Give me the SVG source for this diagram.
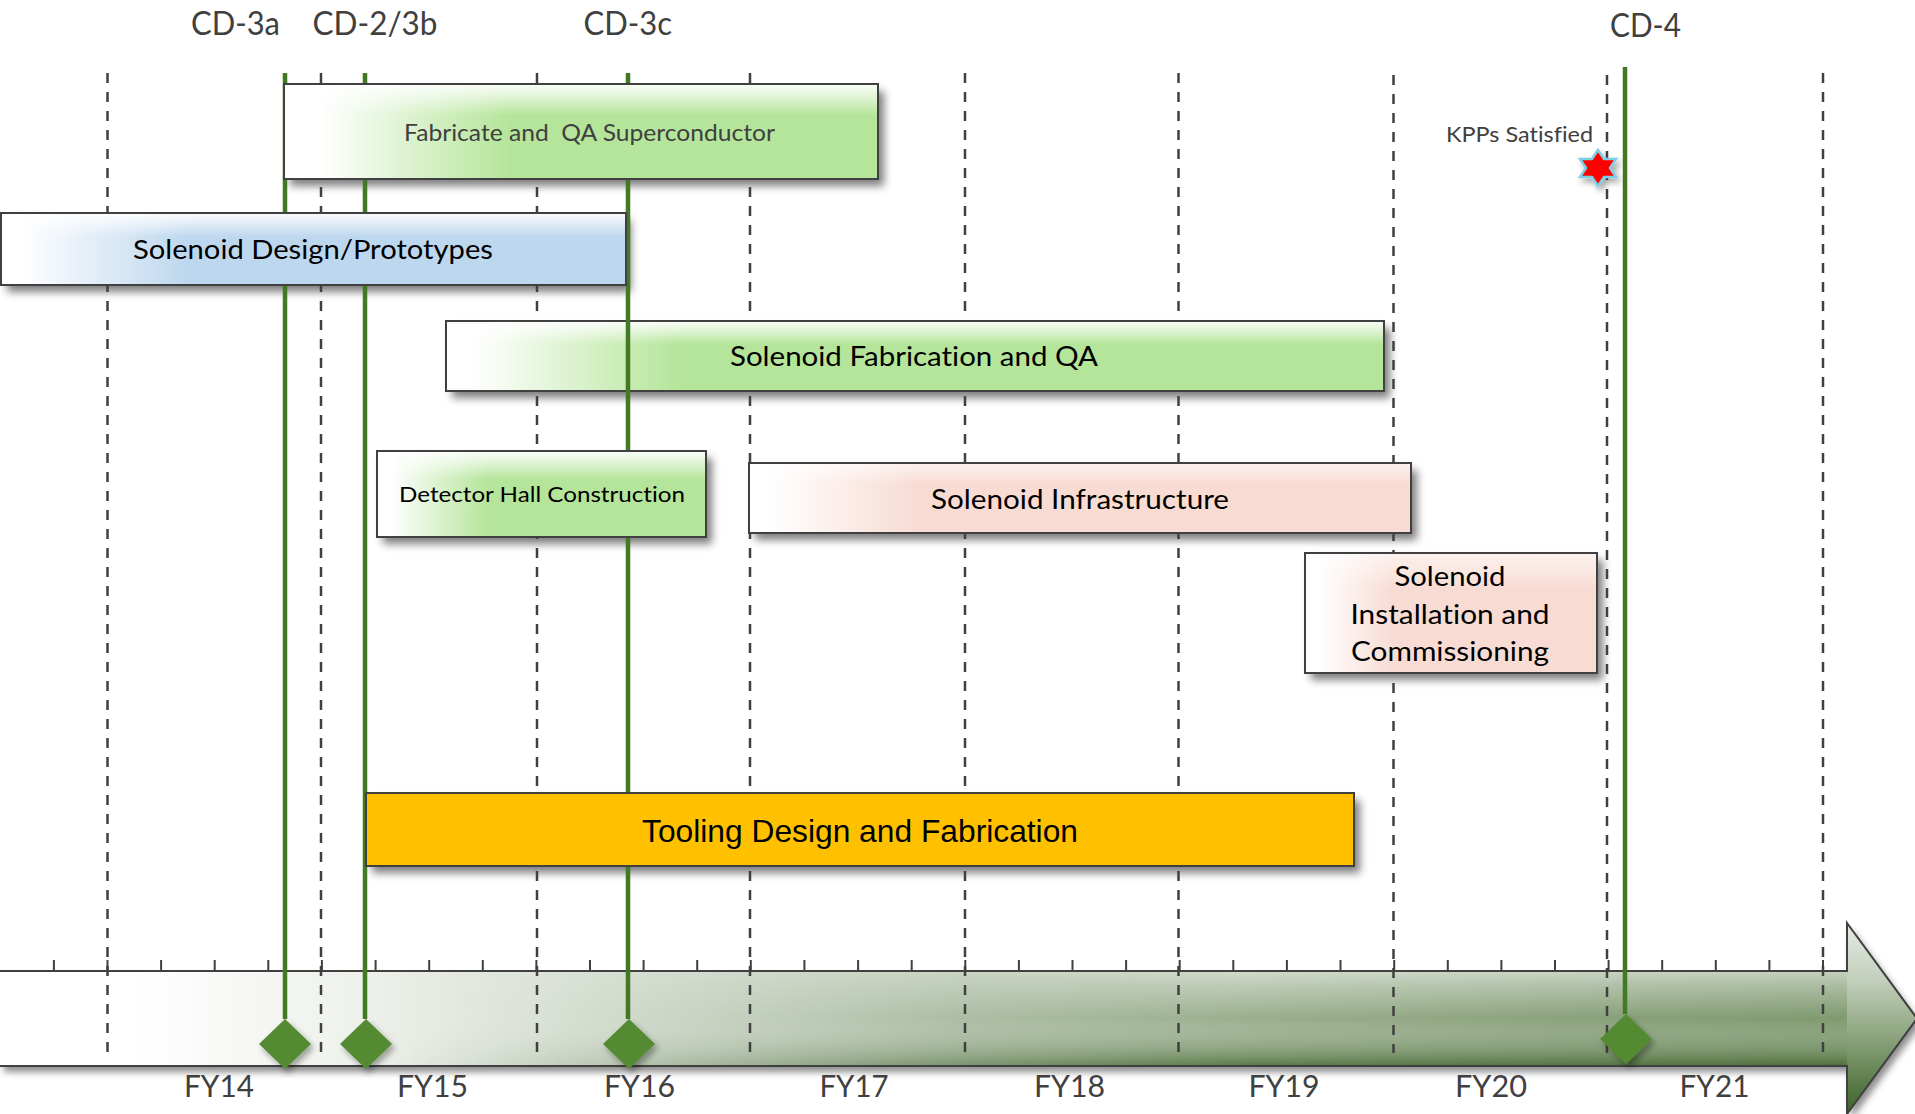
<svg xmlns="http://www.w3.org/2000/svg" width="1915" height="1114" viewBox="0 0 1915 1114">
<style>
text{font-variant-ligatures:none}
.lbl{font-family:Lato,"Open Sans","Liberation Sans",sans-serif;fill:#404040}
.bt{font-family:Lato,"Open Sans","Liberation Sans",sans-serif;fill:#000}
.grid{stroke:#404040;stroke-width:2.5;stroke-dasharray:10 9;fill:none}
.ms{stroke:#417a22;stroke-width:4.5;fill:none}
.dia{fill:#538a32}
.box{stroke:#404040;stroke-width:2}
.sh{fill:#000;opacity:0.5;filter:url(#blur)}
</style>
<defs>
<filter id="blur" x="-10%" y="-30%" width="120%" height="160%"><feGaussianBlur stdDeviation="4"/></filter>
<filter id="dsh" x="-5%" y="-20%" width="110%" height="150%"><feDropShadow dx="4" dy="6" stdDeviation="3.5" flood-color="#000" flood-opacity="0.45"/></filter>
<filter id="dsmall" x="-50%" y="-50%" width="200%" height="200%"><feDropShadow dx="3" dy="4" stdDeviation="3" flood-color="#000" flood-opacity="0.35"/></filter>
<linearGradient id="gFab" x1="0" y1="0" x2="1" y2="0"><stop offset="0" stop-color="#fff"/><stop offset="0.06" stop-color="#fff"/><stop offset="0.38" stop-color="#b5e59a"/><stop offset="1" stop-color="#b5e59a"/></linearGradient>
<linearGradient id="gSFab" x1="0" y1="0" x2="1" y2="0"><stop offset="0" stop-color="#fff"/><stop offset="0.03" stop-color="#fff"/><stop offset="0.25" stop-color="#b5e59a"/><stop offset="1" stop-color="#b5e59a"/></linearGradient>
<linearGradient id="gDet" x1="0" y1="0" x2="1" y2="0"><stop offset="0" stop-color="#fff"/><stop offset="0.04" stop-color="#fff"/><stop offset="0.34" stop-color="#b5e59a"/><stop offset="1" stop-color="#b5e59a"/></linearGradient>
<linearGradient id="gBlue" x1="0" y1="0" x2="1" y2="0"><stop offset="0" stop-color="#fff"/><stop offset="0.03" stop-color="#fff"/><stop offset="0.3" stop-color="#bdd7ee"/><stop offset="1" stop-color="#bdd7ee"/></linearGradient>
<linearGradient id="gPink" x1="0" y1="0" x2="1" y2="0"><stop offset="0" stop-color="#fff"/><stop offset="0.03" stop-color="#fff"/><stop offset="0.25" stop-color="#f8dcd4"/><stop offset="1" stop-color="#f8dcd4"/></linearGradient>
<linearGradient id="gPink2" x1="0" y1="0" x2="1" y2="0"><stop offset="0" stop-color="#fff"/><stop offset="0.04" stop-color="#fff"/><stop offset="0.3" stop-color="#f8dcd4"/><stop offset="1" stop-color="#f8dcd4"/></linearGradient>
<linearGradient id="sheen" x1="0" y1="0" x2="0" y2="1"><stop offset="0" stop-color="#fff" stop-opacity="0.9"/><stop offset="0.12" stop-color="#fff" stop-opacity="0.6"/><stop offset="0.33" stop-color="#fff" stop-opacity="0"/></linearGradient>
<linearGradient id="sheen2" x1="0" y1="0" x2="0" y2="1"><stop offset="0" stop-color="#fff" stop-opacity="0.6"/><stop offset="0.3" stop-color="#fff" stop-opacity="0"/></linearGradient>
<linearGradient id="tlH" gradientUnits="userSpaceOnUse" x1="0" y1="0" x2="1915" y2="0"><stop offset="0" stop-color="#fff"/><stop offset="0.07" stop-color="#fff"/><stop offset="0.2" stop-color="#eceFe9"/><stop offset="0.34" stop-color="#cdd7c8"/><stop offset="0.5" stop-color="#adbea4"/><stop offset="0.68" stop-color="#97ad8a"/><stop offset="0.85" stop-color="#87a079"/><stop offset="1" stop-color="#7c986c"/></linearGradient>
<linearGradient id="tlV" gradientUnits="userSpaceOnUse" x1="0" y1="971" x2="0" y2="1066"><stop offset="0" stop-color="#fff" stop-opacity="0.55"/><stop offset="0.15" stop-color="#fff" stop-opacity="0.35"/><stop offset="0.5" stop-color="#fff" stop-opacity="0"/><stop offset="1" stop-color="#2c5419" stop-opacity="0.6"/></linearGradient>
<linearGradient id="tlM" gradientUnits="userSpaceOnUse" x1="0" y1="0" x2="1915" y2="0"><stop offset="0.2" stop-color="#000"/><stop offset="0.65" stop-color="#fff"/><stop offset="1" stop-color="#fff"/></linearGradient>
<mask id="tlMask" maskUnits="userSpaceOnUse" x="0" y="900" width="1915" height="214"><rect x="0" y="900" width="1915" height="214" fill="url(#tlM)"/></mask>
<linearGradient id="tlHead" gradientUnits="userSpaceOnUse" x1="0" y1="923" x2="0" y2="1114"><stop offset="0" stop-color="#e6ebe3"/><stop offset="0.3" stop-color="#c2cfbb"/><stop offset="0.55" stop-color="#94ab87"/><stop offset="1" stop-color="#3b6227"/></linearGradient>
</defs>

<!-- timeline axis -->
<g id="timeline">
<path d="M0 971H1847V923L1917 1018.5L1847 1114V1066H0Z" fill="url(#tlH)" filter="url(#dsh)"/>
<rect x="0" y="971" width="1847" height="95" fill="url(#tlV)" mask="url(#tlMask)"/>
<path d="M1847 923L1917 1018.5L1847 1114Z" fill="url(#tlHead)"/>
<path d="M0 971H1847V923L1917 1018.5L1847 1114V1066H0" fill="none" stroke="#404040" stroke-width="2"/>
<path d="M53.9 960V971M107.5 960V971M161.1 960V971M214.7 960V971M268.3 960V971M321.9 960V971M375.6 960V971M429.2 960V971M482.8 960V971M536.4 960V971M590 960V971M643.6 960V971M697.2 960V971M750.8 960V971M804.4 960V971M858.1 960V971M911.7 960V971M965.3 960V971M1018.9 960V971M1072.5 960V971M1126.1 960V971M1179.7 960V971M1233.3 960V971M1286.9 960V971M1340.5 960V971M1394.2 960V971M1447.8 960V971M1501.4 960V971M1555 960V971M1608.6 960V971M1662.2 960V971M1715.8 960V971M1769.4 960V971M1823 960V971" stroke="#404040" stroke-width="2" fill="none"/>
</g>

<!-- box shadows -->
<g id="shadows">
<rect class="sh" x="290" y="91" width="594" height="95"/>
<rect class="sh" x="7" y="220" width="624" height="72"/>
<rect class="sh" x="452" y="328" width="938" height="70"/>
<rect class="sh" x="383" y="458" width="329" height="86"/>
<rect class="sh" x="755" y="470" width="662" height="70"/>
<rect class="sh" x="1311" y="560" width="292" height="120"/>
<rect class="sh" x="372" y="800" width="988" height="73"/>
</g>

<!-- dashed year grid -->
<g id="grid" class="grid">
<path d="M107.5 73V1053M321 73V1053M537 73V1053M750 73V1053M965 73V1053M1178.5 73V1053M1393.5 75V1053M1607 75V1053M1823 73V1053"/>
</g>

<g id="task-solenoid-fabrication">
<rect class="box" x="446" y="321" width="938" height="70" fill="url(#gSFab)"/>
<rect x="447" y="322" width="936" height="68" fill="url(#sheen)"/>
<text class="bt" x="914" y="366" font-size="27" text-anchor="middle" textLength="368" lengthAdjust="spacingAndGlyphs">Solenoid Fabrication and QA</text>
</g>

<!-- milestone lines (connectors) -->
<g id="connectors">
<path class="ms" d="M285 73V1019"/>
<path class="ms" d="M365 73V1019"/>
<path class="ms" d="M628 73V1019"/>
<path class="ms" d="M1625 67V1014"/>
</g>

<g id="milestone-diamonds" filter="url(#dsmall)">
<polygon class="dia" points="285,1019 311,1044 285,1069 259,1044"/>
<polygon class="dia" points="366,1019 392,1044 366,1069 340,1044"/>
<polygon class="dia" points="629,1019 655,1044 629,1069 603,1044"/>
<polygon class="dia" points="1626,1014 1652,1039 1626,1064 1600,1039"/>
</g>

<g id="task-fabricate-superconductor">
<rect class="box" x="284" y="84" width="594" height="95" fill="url(#gFab)"/>
<rect x="285" y="85" width="592" height="93" fill="url(#sheen)"/>
<text class="lbl" x="404" y="141" font-size="23" textLength="371" lengthAdjust="spacingAndGlyphs" xml:space="preserve">Fabricate and  QA Superconductor</text>
</g>

<g id="task-solenoid-design">
<rect class="box" x="1" y="213" width="625" height="72" fill="url(#gBlue)"/>
<rect x="2" y="214" width="623" height="70" fill="url(#sheen)"/>
<text class="bt" x="133" y="259" font-size="27.5" textLength="360" lengthAdjust="spacingAndGlyphs">Solenoid Design/Prototypes</text>
</g>

<g id="task-detector-hall">
<rect class="box" x="377" y="451" width="329" height="86" fill="url(#gDet)"/>
<rect x="378" y="452" width="327" height="84" fill="url(#sheen)"/>
<text class="bt" x="399" y="502" font-size="22" textLength="286" lengthAdjust="spacingAndGlyphs">Detector Hall Construction</text>
</g>

<g id="task-solenoid-infrastructure">
<rect class="box" x="749" y="463" width="662" height="70" fill="url(#gPink)"/>
<rect x="750" y="464" width="660" height="68" fill="url(#sheen2)"/>
<text class="bt" x="931" y="509" font-size="27" textLength="298" lengthAdjust="spacingAndGlyphs">Solenoid Infrastructure</text>
</g>

<g id="task-installation">
<rect class="box" x="1305" y="553" width="292" height="120" fill="url(#gPink2)"/>
<rect x="1306" y="554" width="290" height="118" fill="url(#sheen2)"/>
<text class="bt" x="1450" y="586" font-size="27" text-anchor="middle" textLength="111" lengthAdjust="spacingAndGlyphs">Solenoid</text>
<text class="bt" x="1450" y="624" font-size="27" text-anchor="middle" textLength="199" lengthAdjust="spacingAndGlyphs">Installation and</text>
<text class="bt" x="1450" y="661" font-size="27" text-anchor="middle" textLength="198" lengthAdjust="spacingAndGlyphs">Commissioning</text>
</g>

<g id="task-tooling">
<rect class="box" x="366" y="793" width="988" height="73" fill="#ffc000"/>
<text x="860" y="842" font-size="31.5" text-anchor="middle" font-family="'Liberation Sans',Arial,sans-serif" fill="#000" textLength="436" lengthAdjust="spacingAndGlyphs">Tooling Design and Fabrication</text>
</g>

<g id="kpp">
<polygon points="1598,150 1604,159 1616,159 1610,168 1616,177 1604,177 1598,186 1592,177 1580,177 1586,168 1580,159 1592,159" fill="#ff0000" stroke="#7ccfe6" stroke-width="2.5" stroke-linejoin="miter" filter="url(#dsmall)"/>
<text class="lbl" x="1446" y="142" font-size="21" textLength="147" lengthAdjust="spacingAndGlyphs">KPPs Satisfied</text>
</g>

<g id="milestone-labels" class="lbl" font-size="32">
<text x="191" y="35" textLength="89" lengthAdjust="spacingAndGlyphs">CD-3a</text>
<text x="312.5" y="35" textLength="125" lengthAdjust="spacingAndGlyphs">CD-2/3b</text>
<text x="583.5" y="35" textLength="88.5" lengthAdjust="spacingAndGlyphs">CD-3c</text>
<text x="1610" y="36.5" textLength="71" lengthAdjust="spacingAndGlyphs">CD-4</text>
</g>

<g id="year-labels" class="lbl" font-size="31" text-anchor="middle">
<text x="219" y="1097" textLength="70" lengthAdjust="spacingAndGlyphs">FY14</text>
<text x="432.5" y="1097" textLength="71" lengthAdjust="spacingAndGlyphs">FY15</text>
<text x="639.5" y="1097" textLength="71" lengthAdjust="spacingAndGlyphs">FY16</text>
<text x="854" y="1097" textLength="69" lengthAdjust="spacingAndGlyphs">FY17</text>
<text x="1069.5" y="1097" textLength="71" lengthAdjust="spacingAndGlyphs">FY18</text>
<text x="1284" y="1097" textLength="71" lengthAdjust="spacingAndGlyphs">FY19</text>
<text x="1491" y="1097" textLength="72" lengthAdjust="spacingAndGlyphs">FY20</text>
<text x="1714.5" y="1097" textLength="70" lengthAdjust="spacingAndGlyphs">FY21</text>
</g>
</svg>
